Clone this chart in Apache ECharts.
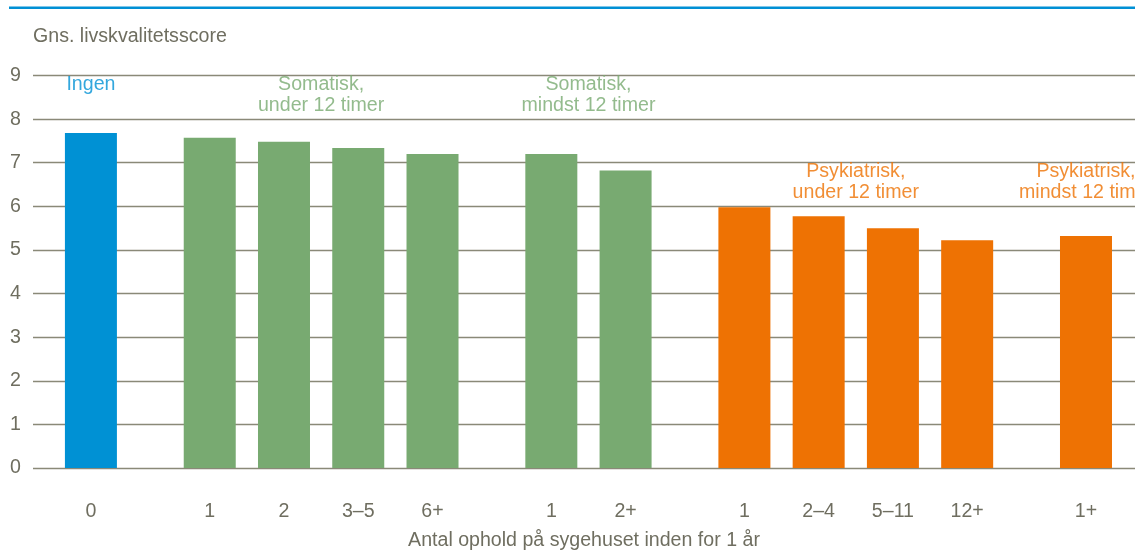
<!DOCTYPE html>
<html>
<head>
<meta charset="utf-8">
<title>Gns. livskvalitetsscore</title>
<script src="https://cdn.jsdelivr.net/npm/echarts@6/dist/echarts.min.js"></script>
<style>
  html, body { margin: 0; padding: 0; background: #ffffff; overflow: hidden; }
  #chart { width: 1135px; height: 556px; }
</style>
</head>
<body>
<div id="chart"></div>
<script>
// Groups of hospital stays and the number of bars in each group
const groupNames = ['Ingen', 'Somatisk,\nunder 12 timer', 'Somatisk,\nmindst 12 timer', 'Psykiatrisk,\nunder 12 timer', 'Psykiatrisk,\nmindst 12 timer'];
const groupSizes = [1, 4, 2, 4, 1];
// Category labels under each bar
const tickLabels = ['0', '1', '2', '3–5', '6+', '1', '2+', '1', '2–4', '5–11', '12+', '1+'];
// Mean quality-of-life score per bar
const scores = [7.68, 7.57, 7.48, 7.34, 7.20, 7.20, 6.82, 5.98, 5.77, 5.50, 5.22, 5.32];
const yTicks = [0, 1, 2, 3, 4, 5, 6, 7, 8, 9];

// Styling
const groupColors = ['#0091d4', '#78aa71', '#78aa71', '#ee7203', '#ee7203'];
const textColor = '#6f6e60';
const lineColor = '#8a8978';
const fontFamily = "'Liberation Sans', Arial, sans-serif";
const fontSize = 19.6;
const groupGap = 0.6;                               // extra space between groups, in bar slots
const labelLevels = [8.79, 8.55, 8.55, 6.55, 6.55]; // vertical anchor of each group title
const labelShift = [0, 0, 0, 0, -16];               // horizontal nudge of each group title (px)

// Bar positions along the x axis: one slot per bar, with a gap between groups
const positions = [];
const barGroup = [];
let idx = 0;
groupSizes.forEach(function (n, g) {
  for (let k = 0; k < n; k++) {
    positions.push(idx + groupGap * g);
    barGroup.push(g);
    idx++;
  }
});

const barData = scores.map(function (v, i) {
  return { value: [positions[i], v], itemStyle: { color: groupColors[barGroup[i]] } };
});

const groupLabelData = groupNames.map(function (name, g) {
  const ps = positions.filter(function (p, i) { return barGroup[i] === g; });
  const center = (ps[0] + ps[ps.length - 1]) / 2;
  return {
    value: [center, labelLevels[g]],
    name: name,
    label: { color: groupColors[g], offset: [labelShift[g], 0] }
  };
});

function tickFor(v) {
  for (let i = 0; i < positions.length; i++) {
    if (Math.abs(positions[i] - v) < 1e-6) return tickLabels[i];
  }
  return '';
}

const chart = echarts.init(document.getElementById('chart'), null, { renderer: 'canvas' });

chart.setOption({
  animation: false,
  backgroundColor: '#ffffff',
  textStyle: { fontFamily: fontFamily },
  graphic: [
    {
      type: 'rect',
      shape: { x: 9, y: 6.5, width: 1126, height: 2.5 },
      style: { fill: '#0090d5' },
      silent: true
    },
    {
      type: 'text',
      x: 33,
      y: 37,
      style: {
        text: 'Gns. livskvalitetsscore',
        fill: textColor,
        font: fontSize + 'px ' + fontFamily,
        textVerticalAlign: 'middle'
      },
      silent: true
    }
  ],
  grid: { left: 33, right: 0, top: 75.5, height: 397.2, containLabel: false },
  xAxis: {
    type: 'value',
    min: -0.78,
    max: 14.06,
    name: 'Antal ophold på sygehuset inden for 1 år',
    nameLocation: 'middle',
    nameGap: 63,
    nameTextStyle: { color: textColor, fontSize: fontSize, fontFamily: fontFamily },
    axisLine: { show: false },
    axisTick: { show: false },
    splitLine: { show: false },
    axisLabel: {
      customValues: positions,
      formatter: function (v) { return tickFor(v); },
      color: textColor,
      fontSize: fontSize,
      fontFamily: fontFamily,
      margin: 34
    }
  },
  yAxis: {
    type: 'value',
    min: yTicks[0],
    max: yTicks[yTicks.length - 1],
    interval: 1,
    axisLine: { show: false },
    axisTick: { show: false },
    axisLabel: {
      color: textColor,
      fontSize: fontSize,
      fontFamily: fontFamily,
      margin: 12
    },
    splitLine: { show: true, lineStyle: { color: lineColor, width: 1.4 } }
  },
  series: [
    {
      type: 'bar',
      data: barData,
      barWidth: 52,
      z: 3
    },
    {
      type: 'scatter',
      data: groupLabelData,
      symbolSize: 0,
      silent: true,
      z: 4,
      label: {
        show: true,
        position: 'inside',
        formatter: function (p) { return p.name; },
        fontSize: fontSize,
        lineHeight: 21,
        fontFamily: fontFamily,
        align: 'center',
        verticalAlign: 'middle'
      },
      labelLayout: { hideOverlap: false }
    }
  ]
});
</script>
</body>
</html>
